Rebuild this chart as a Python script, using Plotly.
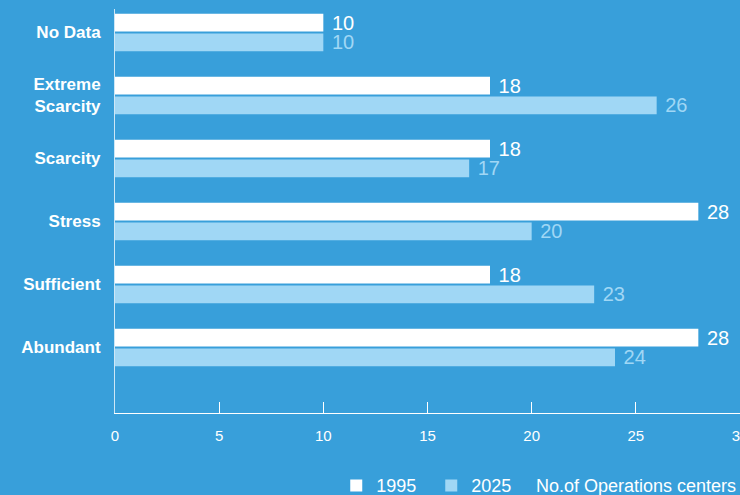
import plotly.graph_objects as go

# Water-availability categories, listed bottom to top
categories = ["Abundant", "Sufficient", "Stress", "Scarcity", "Extreme<br>Scarcity", "No Data"]
centers_1995 = [28, 18, 28, 18, 18, 10]
centers_2025 = [24, 23, 20, 17, 26, 10]
x_ticks = [0, 5, 10, 15, 20, 25, 30]

BG = "#389fda"
LIGHT = "#a0d7f5"
FONT = "Liberation Sans, Arial, sans-serif"
GAP = "\u00a0"  # small gap between bar end and its value

fig = go.Figure()
fig.add_trace(go.Bar(
    y=categories, x=centers_2025, orientation="h", name="2025",
    marker=dict(color=LIGHT, line=dict(width=0)),
    text=centers_2025, texttemplate=GAP + "%{text}", textposition="outside",
    constraintext="none",
    textfont=dict(color=LIGHT, size=20, family=FONT), cliponaxis=False,
))
fig.add_trace(go.Bar(
    y=categories, x=centers_1995, orientation="h", name="1995",
    marker=dict(color="#ffffff", line=dict(width=0)),
    text=centers_1995, texttemplate=GAP + "%{text}", textposition="outside",
    constraintext="none",
    textfont=dict(color="#ffffff", size=20, family=FONT), cliponaxis=False,
))

fig.update_layout(
    width=740, height=495,
    margin=dict(l=115, r=0, t=9, b=82, autoexpand=False),
    paper_bgcolor=BG, plot_bgcolor=BG,
    barmode="group", bargap=0.37, bargroupgap=0.1,
    font=dict(family=FONT, color="#ffffff"),
    showlegend=True,
    legend=dict(
        orientation="h", traceorder="reversed",
        x=0.354, xanchor="left", y=-0.18, yanchor="middle",
        font=dict(size=18, color="#ffffff", family=FONT),
        bgcolor="rgba(0,0,0,0)", entrywidth=50,
    ),
    annotations=[dict(
        text="No.of Operations centers", xref="paper", yref="paper",
        x=0.67, y=-0.18, xanchor="left", yanchor="middle", showarrow=False,
        font=dict(size=18, color="#ffffff", family=FONT),
    )],
)

fig.update_xaxes(
    range=[0, 30], tickvals=x_ticks, ticktext=[str(v) for v in x_ticks],
    showgrid=False, zeroline=False,
    showline=True, linecolor="#ffffff", linewidth=1,
    ticks="inside", ticklen=11, tickcolor="#ffffff", tickwidth=1,
    tickfont=dict(size=15, color="#ffffff", family=FONT),
    ticklabelstandoff=9, ticklabeloverflow="allow",
)
fig.update_yaxes(
    categoryorder="array", categoryarray=categories,
    range=[-1.04, 5.373],
    showgrid=False, zeroline=False,
    showline=True, linecolor="rgba(255,255,255,0.75)", linewidth=1,
    ticks="",
    tickfont=dict(size=17, color="#ffffff", family=FONT, weight="bold"),
    ticklabelstandoff=10,
)

fig.write_html("out.html")
